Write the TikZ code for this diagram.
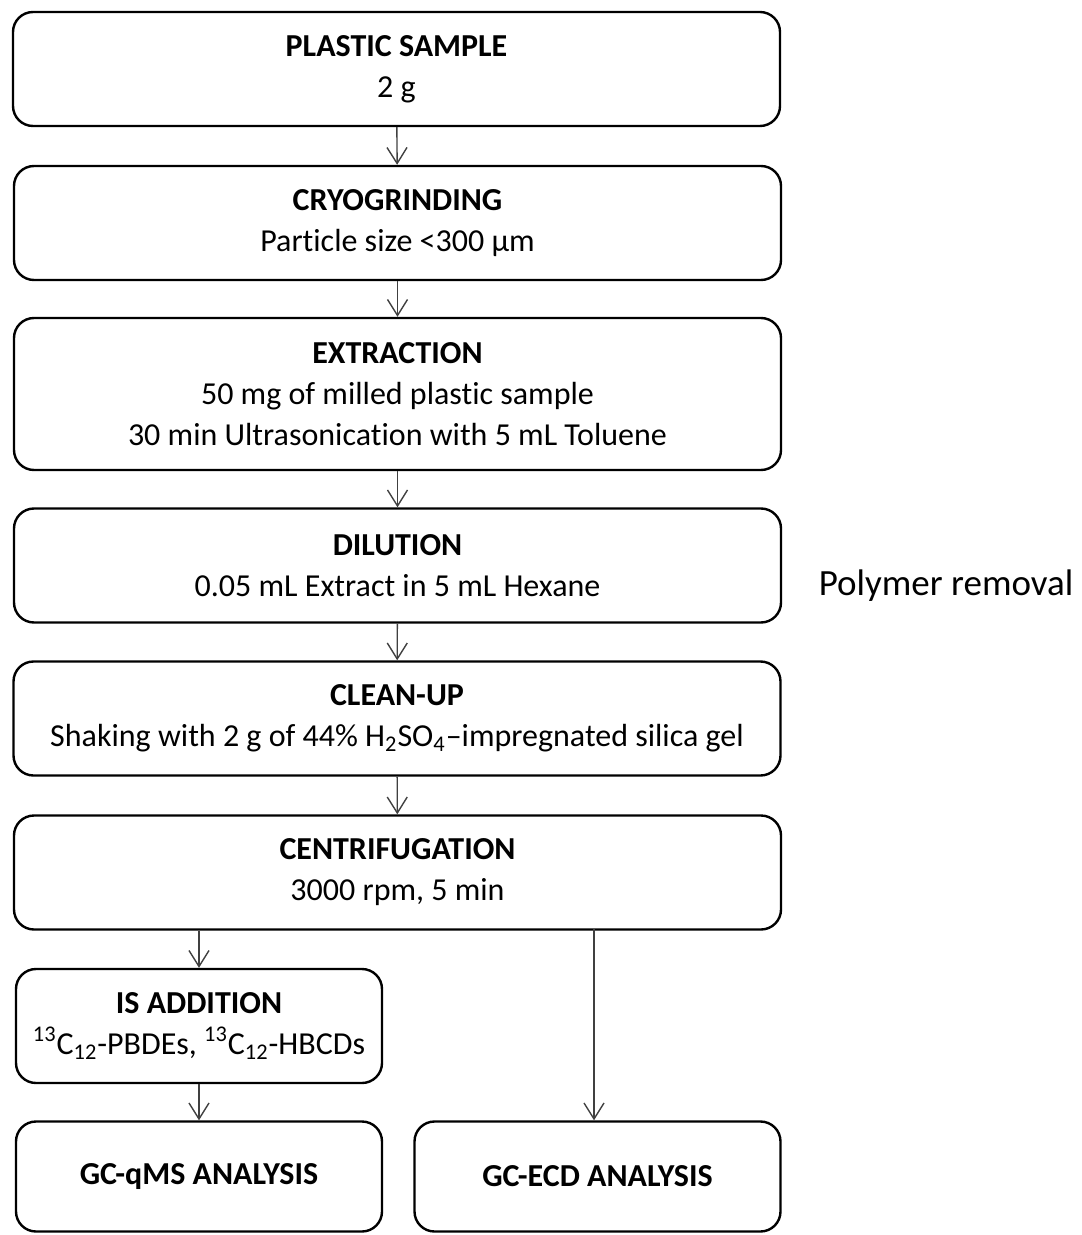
\documentclass[tikz,border=0pt]{standalone}
\usepackage{fontspec}
\setmainfont{Carlito}[Ligatures=NoCommon]
\usetikzlibrary{arrows.meta}

\begin{document}
\begin{tikzpicture}[x=0.5pt,y=-0.5pt,
  stepbox/.style={draw,line width=1.2pt,rounded corners=10pt,align=center,inner sep=0pt,
    font=\fontsize{16}{20.5}\selectfont,minimum width=383.5pt,minimum height=57pt},
  halfbox/.style={stepbox,minimum width=183pt},
  flow/.style={draw=black!75,line width=0.7pt,-{Straight Barb[length=8pt,width=10pt,line width=0.7pt]}}]
\useasboundingbox (0,0) rectangle (1081,1235);
\node[stepbox] (sample) at (396.5,69) {\textbf{PLASTIC SAMPLE}\\2 g};
\node[stepbox] (grind) at (397.5,223) {\textbf{CRYOGRINDING}\\Particle size <300 µm};
\node[stepbox,minimum height=76pt] (extract) at (397.5,394) {\textbf{EXTRACTION}\\50 mg of milled plastic sample\\30 min Ultrasonication with 5 mL Toluene};
\node[stepbox] (dilute) at (397.5,565.5) {\textbf{DILUTION}\\0.05 mL Extract in 5 mL Hexane};
\node[stepbox] (clean) at (397,718.5) {\textbf{CLEAN-UP}\\Shaking with 2 g of 44\% H\textsubscript{2}SO\textsubscript{4}--impregnated silica gel};
\node[stepbox] (centri) at (397.5,872.5) {\textbf{CENTRIFUGATION}\\3000 rpm, 5 min};
\node[halfbox] (isadd) at (199,1026) {\textbf{IS ADDITION}\\\textsuperscript{13}C\textsubscript{12}-PBDEs, \textsuperscript{13}C\textsubscript{12}-HBCDs};
\node[halfbox,minimum height=55pt] (qms) at (199,1176.5) {\raisebox{-2pt}{\textbf{GC-qMS ANALYSIS}}};
\node[halfbox,minimum height=55pt] (ecd) at (597.5,1176.5) {\raisebox{-2pt}{\textbf{GC-ECD ANALYSIS}}};
\node[font=\fontsize{18.5}{22}\selectfont] (polymer) at (946,586) {Polymer removal};
\draw[flow] (sample) -- (grind);
\draw[flow] (grind) -- (extract);
\draw[flow] (extract) -- (dilute);
\draw[flow] (dilute) -- (clean);
\draw[flow] (clean) -- (centri);
\draw[flow] (isadd.north |- centri.south) -- (isadd);
\draw[flow] (isadd) -- (qms);
\draw[flow] (ecd.north -| 594,0) ++(0,-191) -- (ecd.north -| 594,0);
\end{tikzpicture}
\end{document}
